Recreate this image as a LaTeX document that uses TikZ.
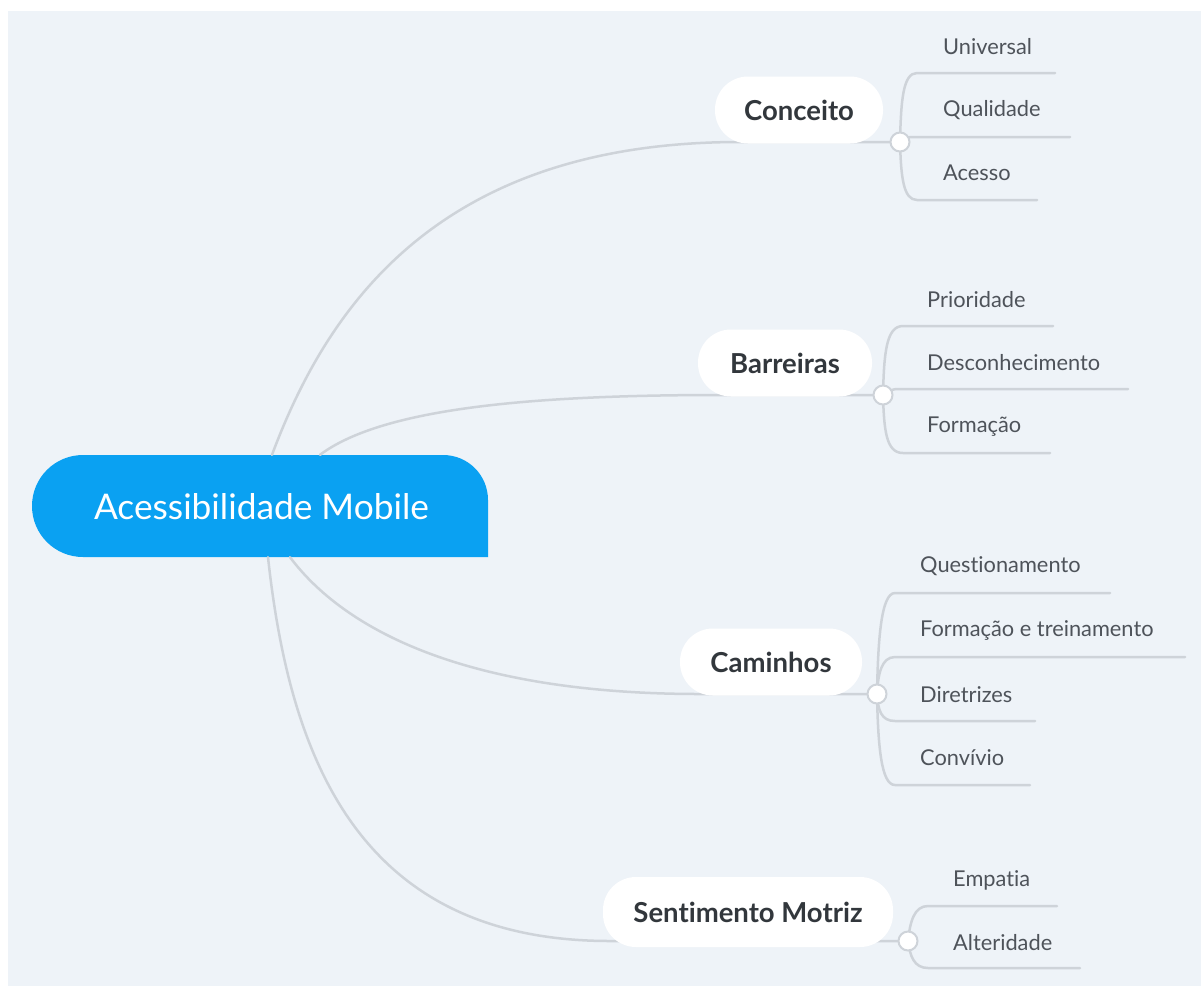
\documentclass[tikz,border=0pt]{standalone}
\usepackage{fontspec}
\setmainfont{Lato}[Ligatures=NoCommon]
\definecolor{bgc}{RGB}{238,243,248}
\definecolor{rootblue}{RGB}{10,161,242}
\definecolor{linec}{RGB}{206,211,217}
\definecolor{branchtext}{RGB}{50,55,60}
\definecolor{leaftext}{RGB}{78,83,90}
\begin{document}
\begin{tikzpicture}[x=1pt,y=-1pt,
  conn/.style={draw=linec, line width=2.5pt, line cap=round},
  pill/.style={rectangle, rounded corners=33pt, fill=white, minimum height=67pt, inner sep=0pt,
    font=\bfseries\fontsize{27.5}{27.5}\selectfont, text=branchtext},
  hub/.style={circle, draw=linec, line width=2pt, fill=white, minimum size=19pt, inner sep=0pt},
  leaf/.style={anchor=west, inner sep=0pt, font=\fontsize{21.8}{21.8}\selectfont, text=leaftext},
  roottext/.style={inner sep=0pt, minimum width=456pt, minimum height=102pt,
    font=\fontsize{35.3}{35.3}\selectfont, text=white}]
\useasboundingbox (0,0) rectangle (1201,986);
\fill[white] (0,0) rectangle (1201,986);
\fill[bgc] (8,11) rectangle (1201,986);

% root
\node[roottext] (root) at (260,506) {};
\fill[rootblue] (83,557) -- (488,557) -- (488,500)
  .. controls (488,475.1) and (468.1,455) .. (443,455) -- (83,455)
  .. controls (54.8,455) and (32,477.8) .. (32,506)
  .. controls (32,534.2) and (54.8,557) .. (83,557) -- cycle;
\node[roottext] at (261.5,507) {Acessibilidade Mobile};

% hubs (positions)
\coordinate (h1) at (900,142);
\coordinate (h2) at (883,395);
\coordinate (h3) at (877,694);
\coordinate (h4) at (908,941);

% branch connectors
\draw[conn] ([xshift=12pt]root.north) .. controls (328,305) and (440,142) .. (740,142) -- (h1);
\draw[conn] ([xshift=60pt]root.north) .. controls (380,410) and (520,395) .. (720,395) -- (h2);
\draw[conn] ([xshift=30pt]root.south) .. controls (350,637) and (480,694) .. (700,694) -- (h3);
\draw[conn] ([xshift=8pt]root.south) .. controls (290,760) and (360,941) .. (610,941) -- (h4);

% leaf connectors
% Conceito
\draw[conn] (h1) .. controls (901,100) and (903,73) .. (917,73) -- (1055,73);
\draw[conn] (h1) .. controls (905,142) and (905,137) .. (912,137) -- (1070,137);
\draw[conn] (h1) .. controls (901,176) and (903,200) .. (917,200) -- (1037,200);
% Barreiras
\draw[conn] (h2) .. controls (884,354) and (886,326) .. (903,326) -- (1053,326);
\draw[conn] (h2) .. controls (889,395) and (889,389) .. (896,389) -- (1128,389);
\draw[conn] (h2) .. controls (884,430) and (886,453) .. (903,453) -- (1050,453);
% Caminhos
\draw[conn] (h3) .. controls (878,640) and (881,593) .. (895,593) -- (1110,593);
\draw[conn] (h3) .. controls (878,675) and (881,657) .. (895,657) -- (1185,657);
\draw[conn] (h3) .. controls (878,710) and (881,721) .. (895,721) -- (1035,721);
\draw[conn] (h3) .. controls (878,745) and (881,785) .. (895,785) -- (1030,785);
% Sentimento Motriz
\draw[conn] (h4) .. controls (910,922) and (914,906) .. (928,906) -- (1057,906);
\draw[conn] (h4) .. controls (910,956) and (914,968) .. (928,968) -- (1080,968);

% branch pills
\node[pill, minimum width=168pt] (conceito) at (799,110) {Conceito};
\node[pill, minimum width=174pt] (barreiras) at (785,363) {Barreiras};
\node[pill, minimum width=182pt] (caminhos) at (771,662) {Caminhos};
\node[pill, minimum width=290pt, minimum height=70pt] (sentimento) at (748,912) {Sentimento Motriz};

% hub circles
\node[hub] (c1) at (h1) {};
\node[hub] (c2) at (h2) {};
\node[hub] (c3) at (h3) {};
\node[hub] (c4) at (h4) {};

% leaves
\node[leaf] (universal) at (943,47) {Universal};
\node[leaf] (qualidade) at (943,110) {Qualidade};
\node[leaf] (acesso) at (943,173) {Acesso};
\node[leaf] (prioridade) at (927,300) {Prioridade};
\node[leaf] (desconhecimento) at (927,363) {Desconhecimento};
\node[leaf] (formacao) at (927,427) {Formação};
\node[leaf] (questionamento) at (920,566) {Questionamento};
\node[leaf] (formtrein) at (920,630) {Formação e treinamento};
\node[leaf] (diretrizes) at (920,695) {Diretrizes};
\node[leaf] (convivio) at (920,758) {Convívio};
\node[leaf] (empatia) at (953,880) {Empatia};
\node[leaf] (alteridade) at (953,943) {Alteridade};
\end{tikzpicture}
\end{document}
